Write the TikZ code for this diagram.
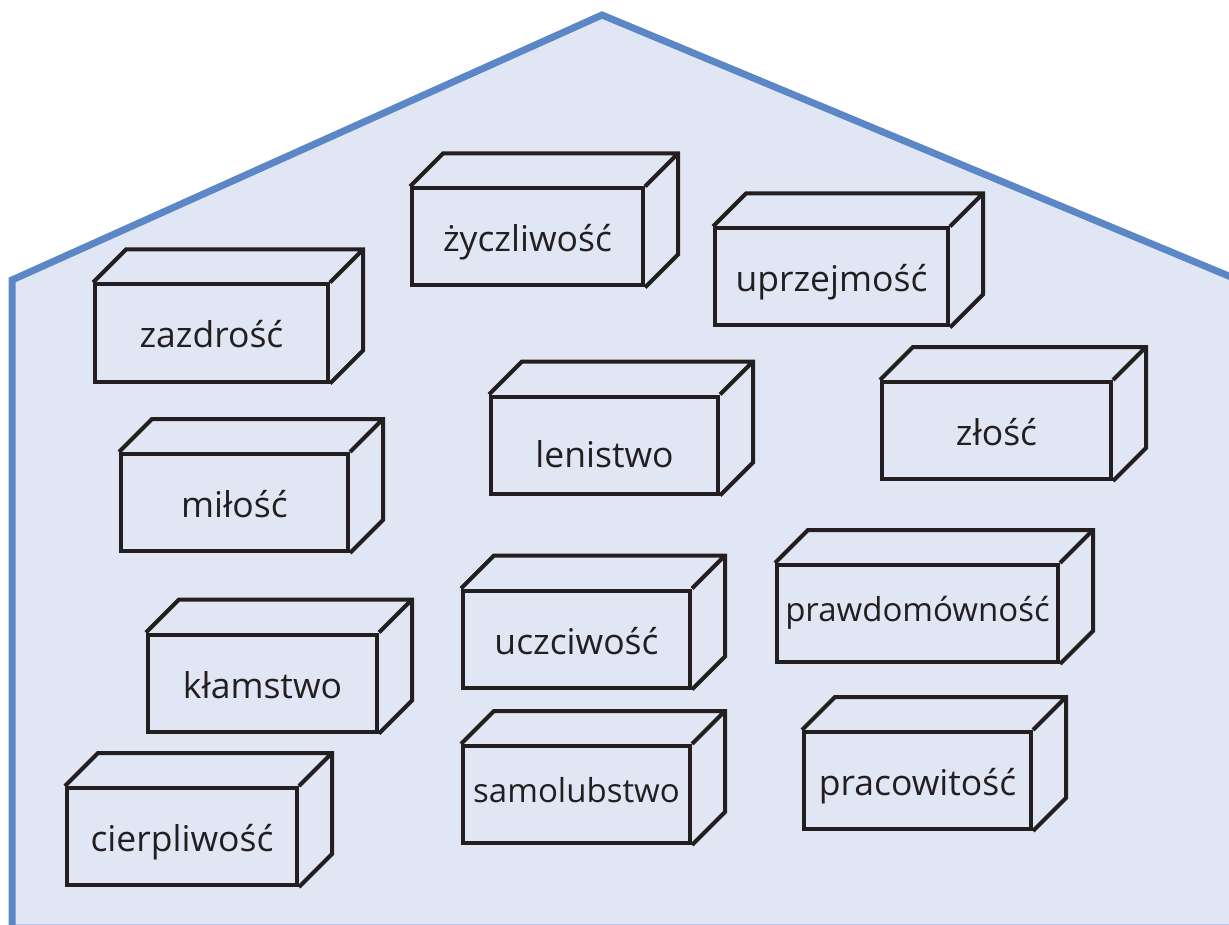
\documentclass[tikz,border=0pt]{standalone}
\usepackage{fontspec}
\setmainfont{Open Sans}

\definecolor{wall}{RGB}{224,230,244}
\definecolor{roof}{RGB}{91,135,198}
\definecolor{ink}{RGB}{35,31,32}

\begin{document}
\begin{tikzpicture}[x=1pt, y=-1pt,
    brick/.style={rectangle, draw=ink, line width=4pt, inner sep=0pt,
        minimum width=229pt, minimum height=97pt,
        text height=30pt, text depth=0pt, text=ink,
        font=\fontsize{35.5}{42}\selectfont},
    small/.style={font=\fontsize{33}{40}\selectfont},
    face/.style={draw=ink, line width=4pt}]
    \useasboundingbox (0,0) rectangle (1229,925);

    % house
    \filldraw[fill=wall, draw=roof, line width=7pt]
        (12,928) -- (12,280) -- (602,15) -- (1260,289) -- (1260,928) -- cycle;

    % bricks
    \node[brick, minimum width=231pt] (zyczliwosc) at (527.5,237) {życzliwość};
    \node[brick, minimum width=233pt] (uprzejmosc) at (831.5,277) {uprzejmość};
    \node[brick, minimum width=233pt] (zazdrosc) at (211.5,333) {zazdrość};
    \node[brick, minimum width=227pt, text height=44pt] (lenistwo) at (604.5,445) {lenistwo};
    \node[brick] (zlosc) at (996.5,430.5) {złość};
    \node[brick, minimum width=227pt] (milosc) at (234.5,502.5) {miłość};
    \node[brick, minimum width=227pt] (uczciwosc) at (576.5,639) {uczciwość};
    \node[brick, small, minimum width=281pt, text height=16pt] (prawdomownosc) at (917.5,613.5) {prawdomówność};
    \node[brick] (klamstwo) at (262.5,683) {kłamstwo};
    \node[brick, small, minimum width=227pt, text height=16pt] (samolubstwo) at (576.5,794.5) {samolubstwo};
    \node[brick, minimum width=227pt] (pracowitosc) at (917.5,780.5) {pracowitość};
    \node[brick, minimum width=230pt] (cierpliwosc) at (182,836.5) {cierpliwość};

    % top and side faces
    \foreach \b in {zyczliwosc, uprzejmosc, zazdrosc, lenistwo, zlosc, milosc,
        uczciwosc, prawdomownosc, klamstwo, samolubstwo, pracowitosc, cierpliwosc}
        \draw[face] (\b.north west) -- ++(33,-33) -| ([shift={(33,-33)}]\b.south east)
            -- (\b.south east) (\b.north east) -- ++(33,-33);
\end{tikzpicture}
\end{document}
